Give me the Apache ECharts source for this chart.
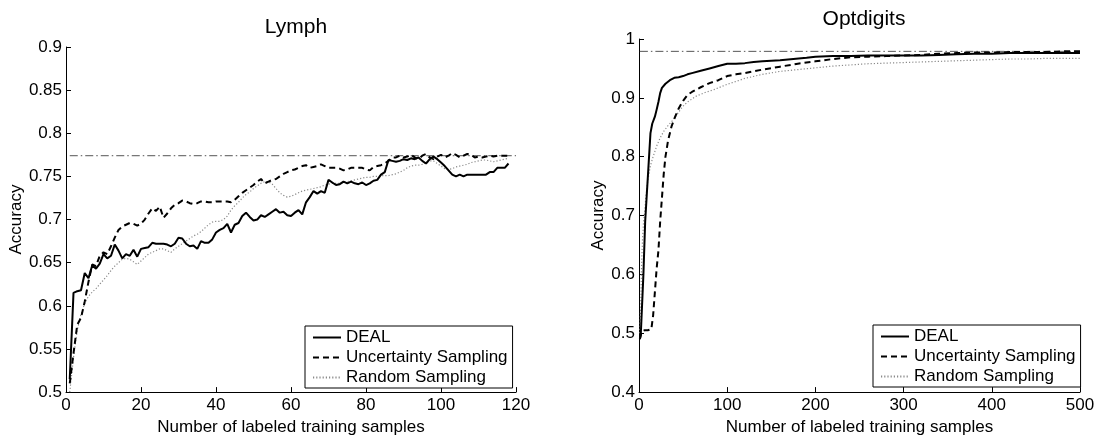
<!DOCTYPE html>
<html>
<head>
<meta charset="utf-8">
<script src="https://cdn.jsdelivr.net/npm/echarts@6/dist/echarts.min.js"></script>
<style>
  html, body { margin: 0; padding: 0; background: #fff; }
  #chart { width: 1120px; height: 441px; }
</style>
</head>
<body>
<div id="chart"></div>
<script>
// ---- Lymph: accuracy after each labeled sample (1..118) ----
const lymphDeal = [
  0.515,0.615,0.617,0.618,0.638,0.632,0.647,0.643,0.649,0.660,
  0.655,0.658,0.671,0.664,0.655,0.660,0.658,0.665,0.657,0.666,
  0.667,0.668,0.673,0.672,0.672,0.672,0.671,0.669,0.672,0.679,
  0.678,0.672,0.669,0.670,0.666,0.675,0.673,0.673,0.677,0.685,
  0.688,0.690,0.695,0.685,0.694,0.696,0.704,0.708,0.703,0.699,
  0.700,0.705,0.703,0.706,0.709,0.712,0.708,0.709,0.705,0.704,
  0.708,0.711,0.706,0.720,0.726,0.733,0.730,0.733,0.731,0.746,
  0.743,0.740,0.741,0.744,0.742,0.744,0.742,0.741,0.743,0.740,
  0.742,0.745,0.746,0.752,0.755,0.769,0.768,0.767,0.768,0.770,
  0.769,0.771,0.770,0.772,0.768,0.765,0.770,0.773,0.770,0.766,
  0.762,0.757,0.752,0.750,0.752,0.750,0.752,0.752,0.752,0.752,
  0.752,0.752,0.755,0.755,0.760,0.760,0.760,0.765
];
const lymphUncertainty = [
  0.510,0.545,0.578,0.586,0.605,0.628,0.648,0.646,0.658,0.662,
  0.660,0.669,0.679,0.688,0.692,0.694,0.696,0.695,0.693,0.695,
  0.700,0.707,0.713,0.710,0.715,0.702,0.707,0.713,0.717,0.719,
  0.722,0.721,0.719,0.718,0.719,0.721,0.721,0.720,0.720,0.721,
  0.721,0.721,0.721,0.720,0.723,0.727,0.731,0.734,0.737,0.740,
  0.744,0.747,0.742,0.744,0.746,0.747,0.750,0.753,0.755,0.757,
  0.758,0.760,0.762,0.763,0.760,0.761,0.762,0.764,0.762,0.760,
  0.760,0.760,0.759,0.757,0.758,0.760,0.760,0.760,0.760,0.758,
  0.757,0.761,0.762,0.763,0.765,0.768,0.772,0.772,0.774,0.772,
  0.773,0.775,0.772,0.770,0.774,0.776,0.772,0.770,0.773,0.775,
  0.772,0.774,0.777,0.775,0.772,0.774,0.776,0.775,0.772,0.773,
  0.772,0.773,0.774,0.773,0.774,0.774,0.774,0.774
];
const lymphRandom = [
  0.500,0.540,0.572,0.590,0.603,0.611,0.616,0.620,0.625,0.630,
  0.635,0.641,0.646,0.650,0.654,0.655,0.654,0.651,0.648,0.652,
  0.656,0.660,0.662,0.664,0.666,0.666,0.664,0.662,0.666,0.669,
  0.672,0.675,0.678,0.681,0.683,0.686,0.690,0.694,0.697,0.698,
  0.698,0.700,0.704,0.711,0.716,0.720,0.725,0.729,0.732,0.736,
  0.739,0.742,0.744,0.744,0.741,0.736,0.731,0.728,0.726,0.727,
  0.729,0.731,0.733,0.734,0.735,0.736,0.737,0.738,0.740,0.741,
  0.742,0.742,0.742,0.743,0.744,0.745,0.746,0.747,0.748,0.749,
  0.749,0.750,0.750,0.751,0.751,0.751,0.752,0.753,0.755,0.757,
  0.760,0.762,0.763,0.763,0.764,0.766,0.768,0.768,0.765,0.762,
  0.759,0.758,0.759,0.761,0.762,0.763,0.764,0.766,0.767,0.768,
  0.769,0.769,0.768,0.767,0.768,0.769,0.770,0.771
];
const lymphSamples = lymphDeal.map((_, i) => i + 1);
const lymphFullTraining = 0.774;
const lymphRefX = [1, 120];

// ---- Optdigits: accuracy at selected numbers of labeled samples ----
const optDealX = [1,2,3,5,7,9,11,13,15,18,20,22,24,26,30,35,40,45,50,55,60,70,80,90,100,110,120,130,140,150,160,175,190,200,220,240,260,280,300,320,340,360,380,400,420,440,460,480,500];
const optDeal  = [0.490,0.497,0.500,0.600,0.690,0.740,0.790,0.840,0.856,0.868,0.880,0.893,0.908,0.917,0.924,0.930,0.934,0.935,0.937,0.940,0.942,0.946,0.950,0.954,0.958,0.958,0.959,0.961,0.962,0.963,0.964,0.966,0.968,0.970,0.971,0.971,0.972,0.972,0.972,0.972,0.973,0.974,0.975,0.975,0.976,0.976,0.976,0.976,0.976];

const optUncX = [1,3,6,10,14,16,18,20,22,24,26,28,30,33,37,41,45,50,55,60,70,80,90,100,110,120,140,160,180,200,220,240,260,280,300,320,340,360,380,400,420,440,460,480,500];
const optUnc  = [0.490,0.503,0.505,0.505,0.507,0.530,0.570,0.610,0.640,0.690,0.730,0.770,0.800,0.828,0.852,0.868,0.882,0.895,0.905,0.910,0.918,0.925,0.930,0.937,0.940,0.942,0.948,0.953,0.958,0.962,0.966,0.969,0.970,0.971,0.972,0.973,0.975,0.976,0.977,0.977,0.978,0.978,0.978,0.979,0.979];

const optRandX = [1,2,3,4,5,6,8,10,13,16,20,24,28,33,39,45,50,55,65,75,85,100,120,140,160,180,200,220,240,260,280,300,320,340,360,380,400,420,440,460,480,500];
const optRand  = [0.500,0.550,0.620,0.660,0.685,0.700,0.735,0.760,0.785,0.800,0.818,0.832,0.843,0.853,0.863,0.876,0.886,0.893,0.903,0.909,0.914,0.923,0.933,0.940,0.945,0.948,0.951,0.954,0.956,0.958,0.959,0.960,0.961,0.962,0.963,0.964,0.965,0.966,0.966,0.967,0.967,0.967];

const optFullTraining = 0.979;
const optRefX = [1, 500];

const seriesNames = ['DEAL', 'Uncertainty Sampling', 'Random Sampling'];

const FONT = 'Liberation Sans, Arial, Helvetica, sans-serif';
const pairs = (xs, ys) => xs.map((x, i) => [x, ys[i]]);

const styles = [
  { color: '#000', width: 2, type: 'solid' },
  { color: '#000', width: 2, type: [6, 4] },
  { color: '#8a8a8a', width: 1.2, type: [1.2, 2] }
];
const refStyle = { color: '#555', width: 1, type: [8, 3, 1.5, 3] };

function curve(name, data, idx, st) {
  return {
    name, type: 'line', xAxisIndex: idx, yAxisIndex: idx, data,
    symbol: 'none', smooth: false, animation: false,
    lineStyle: st, itemStyle: { color: st.color }
  };
}

function axisX(gridIndex, max, interval) {
  return {
    type: 'value', gridIndex, min: 0, max, interval,
    name: 'Number of labeled training samples', nameLocation: 'middle', nameGap: 21,
    nameTextStyle: { fontFamily: FONT, fontSize: 17, color: '#000' },
    axisLine: { show: true, lineStyle: { color: '#000', width: 1 } },
    axisTick: { show: true, inside: true, length: 5, lineStyle: { color: '#000' } },
    axisLabel: { fontFamily: FONT, fontSize: 17, color: '#000', margin: 5 },
    splitLine: { show: false }
  };
}
function axisY(gridIndex, min, max, interval, gap) {
  return {
    type: 'value', gridIndex, min, max, interval,
    name: 'Accuracy', nameLocation: 'middle', nameGap: gap, nameRotate: 90,
    nameTextStyle: { fontFamily: FONT, fontSize: 17, color: '#000' },
    axisLine: { show: true, lineStyle: { color: '#000', width: 1 } },
    axisTick: { show: true, inside: true, length: 5, lineStyle: { color: '#000' } },
    axisLabel: { fontFamily: FONT, fontSize: 17, color: '#000', margin: 4 },
    splitLine: { show: false }
  };
}
function legendAt(left, top) {
  return {
    data: seriesNames, left, top, orient: 'vertical',
    itemWidth: 28, itemHeight: 14, itemGap: 3, itemTextGap: 4,
    padding: [3, 5, 2, 7],
    borderColor: '#000', borderWidth: 1, backgroundColor: '#fff',
    itemStyle: { opacity: 0 },
    textStyle: { fontFamily: FONT, fontSize: 17, color: '#000', lineHeight: 17 },
    selectedMode: false
  };
}

const chart = echarts.init(document.getElementById('chart'), null, { renderer: 'canvas' });
chart.setOption({
  animation: false,
  backgroundColor: '#fff',
  title: [
    { text: 'Lymph', left: 291, top: 12, textAlign: 'center',
      textStyle: { fontFamily: FONT, fontSize: 21, fontWeight: 'normal', color: '#000' } },
    { text: 'Optdigits', left: 859, top: 4, textAlign: 'center',
      textStyle: { fontFamily: FONT, fontSize: 21, fontWeight: 'normal', color: '#000' } }
  ],
  grid: [
    { left: 66, right: 604, top: 47, bottom: 45, containLabel: false },
    { left: 639, right: 40, top: 39, bottom: 45, containLabel: false }
  ],
  xAxis: [axisX(0, 120, 20), axisX(1, 500, 100)],
  yAxis: [axisY(0, 0.5, 0.9, 0.05, 40), axisY(1, 0.4, 1, 0.1, 32)],
  legend: [legendAt(305, 326), legendAt(873, 325)],
  series: [
    curve(null, pairs(lymphRefX, lymphRefX.map(() => lymphFullTraining)), 0, refStyle),
    curve(seriesNames[2], pairs(lymphSamples, lymphRandom), 0, styles[2]),
    curve(seriesNames[1], pairs(lymphSamples, lymphUncertainty), 0, styles[1]),
    curve(seriesNames[0], pairs(lymphSamples, lymphDeal), 0, styles[0]),
    curve(null, pairs(optRefX, optRefX.map(() => optFullTraining)), 1, refStyle),
    curve(seriesNames[2], pairs(optRandX, optRand), 1, styles[2]),
    curve(seriesNames[1], pairs(optUncX, optUnc), 1, styles[1]),
    curve(seriesNames[0], pairs(optDealX, optDeal), 1, styles[0])
  ]
});
</script>
</body>
</html>
